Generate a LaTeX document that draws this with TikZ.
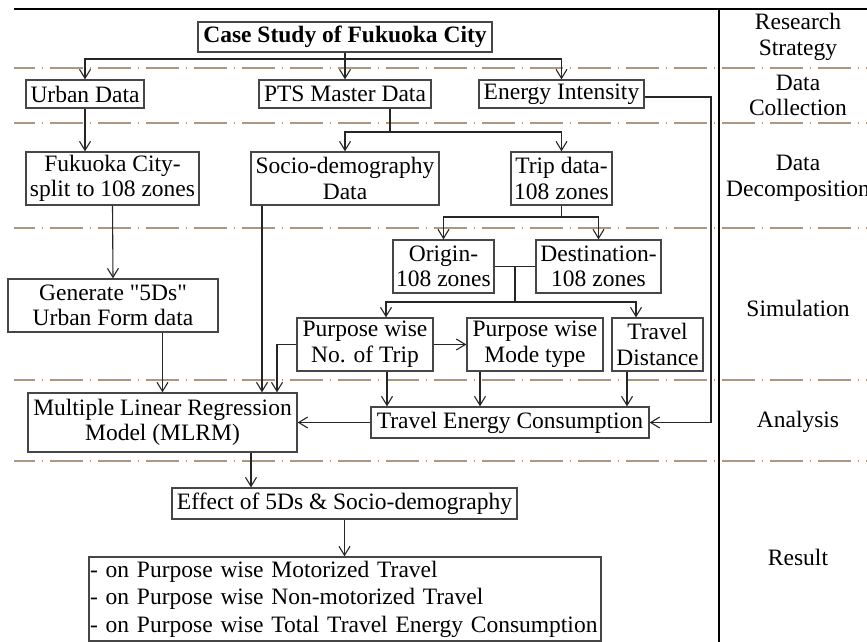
\documentclass[tikz,border=0pt]{standalone}
\usepackage{fontspec}
\setmainfont{Liberation Serif}[Ligatures=TeXOff]
\usetikzlibrary{arrows.meta}
\definecolor{framegray}{RGB}{70,70,70}
\definecolor{sepline}{RGB}{172,152,126}
\begin{document}
\fontsize{11.75pt}{12.8pt}\selectfont
\begin{tikzpicture}[x=0.5pt,y=-0.5pt,
  box/.style={draw=framegray, line width=0.65pt, inner sep=0pt, align=center},
  sz/.style 2 args={minimum width=#1*0.5pt, minimum height=#2*0.5pt},
  con/.style={draw=black!85, line width=0.55pt},
  arr/.style={con, -{Straight Barb[length=4.5pt,width=5.5pt]}},
  sep/.style={draw=sepline, line width=0.75pt,
    dash pattern=on 16.5pt off 3.25pt on 0.75pt off 3.5pt, dash phase=6pt},
  lab/.style={align=center, inner sep=0pt}]
\useasboundingbox (0,0) rectangle (867,642);

% frame: top rule and column separator
\draw[black, line width=0.6pt] (14,9) -- (867,9);
\draw[black, line width=0.6pt] (719,9) -- (719,642);

% stage separators
\foreach \yy in {68,123,228,380,461}
  \draw[sep] (14,\yy) -- (867,\yy);

% stage names
\node[lab] (lab1) at (798,37)    {Research\\Strategy};
\node[lab] (lab2) at (798,95.5)  {Data\\Collection};
\node[lab] (lab3) at (798,178.5) {Data\\Decomposition};
\node[lab] (lab4) at (798,308)   {Simulation};
\node[lab] (lab5) at (798,422)   {Analysis};
\node[lab] (lab6) at (798,557)   {Result};

% boxes
\node[box, sz={294}{30}] (case) at (345,37) {\bfseries Case Study of Fukuoka City};
\node[box, sz={118}{28}] (urban) at (85,94) {Urban Data};
\node[box, sz={172}{28}] (pts) at (345,94) {PTS Master Data};
\node[box, sz={165}{28}] (energy) at (561.5,94) {Energy Intensity};
\node[box, sz={173}{53}] (fuk) at (112.5,178.5) {Fukuoka City-\\split to 108 zones};
\node[box, sz={188}{53}] (socio) at (345,178.5) {Socio-demography\\Data};
\node[box, sz={101}{53}] (trip) at (561.5,178.5) {Trip data-\\108 zones};
\node[box, sz={101}{53}] (origin) at (443.5,266.5) {Origin-\\108 zones};
\node[box, sz={125}{53}] (dest) at (598.5,266.5) {Destination-\\108 zones};
\node[box, sz={210}{53}] (gen) at (113,305.5) {Generate "5Ds"\\Urban Form data};
\node[box, sz={136}{53}] (nott) at (365,344.5) {Purpose wise\\No. of Trip};
\node[box, sz={136}{53}] (mode) at (535,344.5) {Purpose wise\\Mode type};
\node[box, sz={91}{53}] (dist) at (657.5,344.5) {Travel\\Distance};
\node[box, sz={269}{59}] (mlrm) at (162.5,422.5) {Multiple Linear Regression\\Model (MLRM)};
\node[box, sz={278}{31}] (tec) at (510,422.5) {Travel Energy Consumption};
\node[box, sz={345}{31}] (effect) at (344.5,503.5) {Effect of 5Ds \& Socio-demography};
\node[box, minimum height=42pt, text width=255pt, inner xsep=0.5pt, align=left,
      font=\fontsize{11.75pt}{13.75pt}\selectfont] (result) at (345,599)
  {- on Purpose wise Motorized Travel\\
   - on Purpose wise Non-motorized Travel\\
   - on Purpose wise Total Travel Energy Consumption};

% junctions and connector columns
\coordinate (j1) at (345,59);
\coordinate (xp) at (390,0);
\coordinate (j2) at (390,132);
\coordinate (j3) at (561.5,217);
\coordinate (j4) at (515,266.5);
\coordinate (j5) at (515,302);
\coordinate (xe) at (711,0);
\coordinate (ye) at (0,97);
\coordinate (xa) at (386,0);
\coordinate (xb) at (636,0);
\coordinate (xs) at (262,0);
\coordinate (xn) at (277,0);
\coordinate (xt) at (387,0);
\coordinate (xm) at (480,0);
\coordinate (xd) at (627,0);
\coordinate (xr) at (251,0);

% research strategy to data collection
\draw[con] (case.south) -- (j1);
\draw[arr] (j1) -| (urban.north);
\draw[arr] (j1) -- (pts.north);
\draw[arr] (j1) -| (energy.north);

% energy intensity feeds travel energy consumption
\draw[arr] (energy.east |- ye) -| (tec.east -| xe) -- (tec.east);

% data decomposition
\draw[arr] (urban.south) -- (urban.south |- fuk.north);
\draw[con] (pts.south -| xp) -- (j2);
\draw[arr] (j2) -| (socio.north);
\draw[arr] (j2) -| (trip.north);

% trip data split
\draw[con] (trip.south) -- (j3);
\draw[arr] (j3) -| (origin.north);
\draw[arr] (j3) -| (dest.north);

% origin / destination to simulation
\draw[con] (origin.east) -- (dest.west);
\draw[con] (j4) -- (j5);
\draw[arr] (j5) -| (nott.north -| xa);
\draw[arr] (j5) -| (dist.north -| xb);

% urban form branch
\draw[arr] (fuk.south) -- (gen.north);
\draw[arr] (gen.south -| mlrm.north) -- (mlrm.north);

% inputs of the regression model
\draw[arr] (socio.south -| xs) -- (mlrm.north -| xs);
\draw[arr] (nott.west) -| (mlrm.north -| xn);
\draw[arr] (nott.east) -- (mode.west);

% travel energy consumption
\draw[arr] (nott.south -| xt) -- (tec.north -| xt);
\draw[arr] (mode.south -| xm) -- (tec.north -| xm);
\draw[arr] (dist.south -| xd) -- (tec.north -| xd);
\draw[arr] (tec.west) -- (mlrm.east |- tec.west);

% results
\draw[arr] (mlrm.south -| xr) -- (effect.north -| xr);
\draw[arr] (effect.south) -- (effect.south |- result.north);
\end{tikzpicture}
\end{document}
